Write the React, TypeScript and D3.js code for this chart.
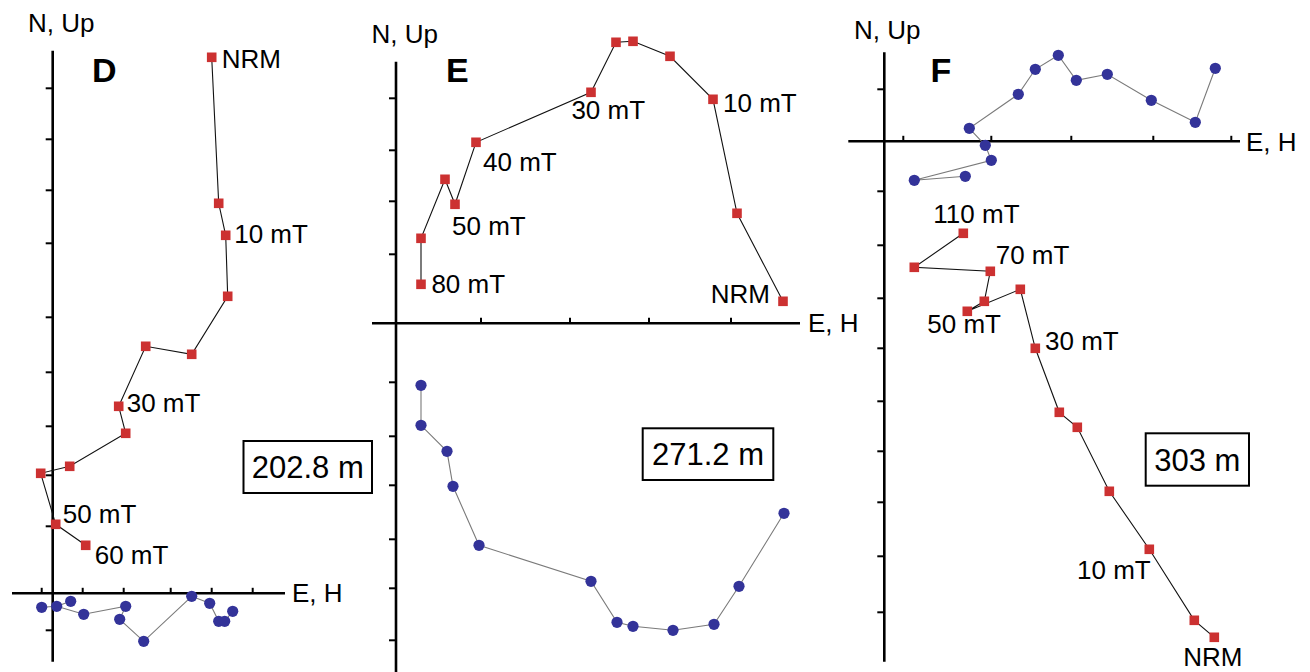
import React from 'react';
import * as d3 from 'd3';

const FONT = '"Liberation Sans", Arial, Helvetica, sans-serif';

// ---------- Panel D (202.8 m) ----------
// [E, Up] vertical projection (red squares), AF steps NRM ... 60 mT
const dVertical: [number, number][] = [
  [15.9, 53.6], [16.6, 39.0], [17.3, 35.8], [17.5, 29.7], [13.9, 23.9], [9.3, 24.7],
  [6.6, 18.7], [7.3, 16.0], [1.7, 12.7], [-1.2, 12.0], [0.3, 6.9], [3.3, 4.8],
];
// [E, N] horizontal projection (blue circles)
const dHorizontal: [number, number][] = [
  [15.7, -1.0], [16.6, -2.8], [17.2, -2.8], [18.0, -1.8], [13.9, -0.3], [9.1, -4.8],
  [6.7, -2.6], [7.3, -1.3], [1.8, -0.8], [-1.1, -1.4], [0.4, -1.3], [3.1, -2.1],
];
const dHorizontalOrder = [3, 2, 1, 0, 4, 5, 6, 7, 11, 10, 9];
const dExtraLink = [8, 10];
const dTicksX = [-1.1, 3.0, 7.1, 11.8, 15.9, 20.0];
const dTicksY = [50.5, 45.4, 40.3, 35.0, 27.6, 22.1, 16.7, 11.8, 6.7, -3.7];
const dLabels = ['NRM', '10 mT', '30 mT', '50 mT', '60 mT'];
const dLabelAt = [0, 2, 6, 10, 11];
const dDepth = '202.8 m';

// ---------- Panel E (271.2 m) ----------
const eVertical: [number, number][] = [
  [38.7, 2.2], [34.1, 11.0], [31.7, 22.4], [27.4, 26.7], [23.7, 28.2], [22.0, 28.1],
  [19.5, 23.1], [8.0, 18.1], [5.9, 11.9], [4.9, 14.4], [2.5, 8.5], [2.5, 3.9],
];
const eHorizontal: [number, number][] = [
  [38.8, -19.0], [34.3, -26.3], [31.8, -30.1], [27.7, -30.7], [23.7, -30.3], [22.1, -29.9],
  [19.5, -25.8], [8.3, -22.2], [5.7, -16.3], [5.1, -12.8], [2.5, -10.2], [2.5, -6.2],
];
const eTicksX = [8.5, 17.4, 25.3, 33.5];
const eTicksY = [22.5, 17.3, 12.2, 6.9, -5.9, -11.3, -16.2, -21.6, -26.5, -31.7];
const eLabels = ['NRM', '10 mT', '30 mT', '40 mT', '50 mT', '80 mT'];
const eLabelAt = [0, 2, 6, 7, 8, 11];
const eDepth = '271.2 m';

// ---------- Panel F (303 m) ----------
const fVertical: [number, number][] = [
  [33.0, -49.6], [31.0, -47.9], [26.5, -40.8], [22.5, -35.0], [19.3, -28.6], [17.5, -27.1],
  [15.1, -20.7], [13.6, -14.8], [8.3, -17.0], [10.0, -16.0], [10.6, -13.0], [3.0, -12.6], [7.9, -9.2],
];
const fHorizontal: [number, number][] = [
  [33.1, 7.3], [31.1, 1.9], [26.7, 4.1], [22.3, 6.7], [19.2, 6.1], [17.4, 8.6],
  [15.1, 7.2], [13.4, 4.7], [8.5, 1.3], [10.1, -0.4], [10.7, -1.9], [3.0, -3.9], [8.1, -3.5],
];
const fTicksX = [1.9, 10.7, 18.7, 26.9, 34.7];
const fTicksY = [5.2, -5.0, -10.4, -15.7, -20.7, -26.0, -31.0, -36.1, -41.5, -47.1];
const fLabels = ['NRM', '10 mT', '30 mT', '50 mT', '70 mT', '110 mT'];
const fLabelAt = [0, 2, 6, 8, 10, 12];
const fDepth = '303 m';

// ---------- layout ----------
type Panel = {
  letter: string;
  vertical: [number, number][];
  horizontal: [number, number][];
  hOrder?: number[];
  extraLinks?: number[][];
  ticksX: number[];
  ticksY: number[];
  labels: string[];
  labelAt: number[];
  labelOffsets: [number, number, string][];
  depth: string;
  xDomain: [number, number];
  xRange: [number, number];
  yDomain: [number, number];
  yRange: [number, number];
  nUp: [number, number];
  eH: [number, number];
  letterPos: [number, number];
  box: [number, number, number, number];
};

const panels: Panel[] = [
  {
    letter: 'D', vertical: dVertical, horizontal: dHorizontal, hOrder: dHorizontalOrder,
    extraLinks: [dExtraLink], ticksX: dTicksX, ticksY: dTicksY, labels: dLabels, labelAt: dLabelAt,
    labelOffsets: [[10, 11, 'start'], [8.5, 8, 'start'], [8, 6, 'start'], [7, -1, 'start'], [9, 19, 'start']],
    depth: dDepth,
    xDomain: [-4.07, 23.23], xRange: [12, 285], yDomain: [-6.84, 54.26], yRange: [661.7, 50.7],
    nUp: [28, 32], eH: [292, 602], letterPos: [92, 82], box: [243.5, 441, 128.5, 52],
  },
  {
    letter: 'E', vertical: eVertical, horizontal: eHorizontal,
    ticksX: eTicksX, ticksY: eTicksY, labels: eLabels, labelAt: eLabelAt,
    labelOffsets: [[-13, 2, 'end'], [10, 13, 'start'], [-19.6, 27, 'start'], [7, 29, 'start'], [-3, 30.7, 'start'], [10.4, 9, 'start']],
    depth: eDepth,
    xDomain: [-2.4, 40.4], xRange: [372, 800], yDomain: [-34.87, 26.16], yRange: [672, 61.7],
    nUp: [371.5, 43.3], eH: [808, 331.7], letterPos: [446, 81.7], box: [642.7, 428.3, 130.6, 51.7],
  },
  {
    letter: 'F', vertical: fVertical, horizontal: fHorizontal,
    ticksX: fTicksX, ticksY: fTicksY, labels: fLabels, labelAt: fLabelAt,
    labelOffsets: [[-31, 29, 'start'], [1.4, 30, 'end'], [9.7, 1.7, 'start'], [-40, 22, 'start'], [5.4, -7, 'start'], [-30, -10.6, 'start']],
    depth: fDepth,
    xDomain: [-3.6, 35.57], xRange: [848.3, 1240], yDomain: [-52.04, 8.9], yRange: [661.7, 52.3],
    nUp: [854, 39], eH: [1246, 150.7], letterPos: [930.5, 81.7], box: [1145.7, 433.3, 103.3, 52.4],
  },
];

const RED = '#cc3131';
const BLUE = '#333399';

function ZPanel({ p }: { p: Panel }) {
  const x = d3.scaleLinear().domain(p.xDomain).range(p.xRange);
  const y = d3.scaleLinear().domain(p.yDomain).range(p.yRange);
  const line = d3.line<[number, number]>().x((d) => x(d[0])).y((d) => y(d[1]));
  const hPts = (p.hOrder ?? p.horizontal.map((_, i) => i)).map((i) => p.horizontal[i]);
  const x0 = x(0);
  const y0 = y(0);
  return (
    <g>
      {/* axes */}
      <line x1={x0} x2={x0} y1={p.yRange[1]} y2={p.yRange[0]} stroke="#000" strokeWidth={2.6} />
      <line x1={p.xRange[0]} x2={p.xRange[1]} y1={y0} y2={y0} stroke="#000" strokeWidth={2.4} />
      {p.ticksY.map((t, i) => (
        <line key={'ty' + i} x1={x0 - 7} x2={x0} y1={y(t)} y2={y(t)} stroke="#000" strokeWidth={2} />
      ))}
      {p.ticksX.map((t, i) => (
        <line key={'tx' + i} x1={x(t)} x2={x(t)} y1={y0 - 5.5} y2={y0} stroke="#000" strokeWidth={2} />
      ))}
      {/* horizontal projection */}
      <path d={line(hPts) ?? ''} fill="none" stroke="#7a7a7a" strokeWidth={1.1} />
      {(p.extraLinks ?? []).map((l, i) => (
        <path key={'el' + i} d={line(l.map((k) => p.horizontal[k])) ?? ''} fill="none" stroke="#7a7a7a" strokeWidth={1.1} />
      ))}
      {p.horizontal.map((d, i) => (
        <circle key={'c' + i} cx={x(d[0])} cy={y(d[1])} r={5.6} fill={BLUE} />
      ))}
      {/* vertical projection */}
      <path d={line(p.vertical) ?? ''} fill="none" stroke="#111" strokeWidth={1.1} />
      {p.vertical.map((d, i) => (
        <rect key={'s' + i} x={x(d[0]) - 4.8} y={y(d[1]) - 4.8} width={9.6} height={9.6} fill={RED} />
      ))}
      {/* step labels */}
      {p.labels.map((t, i) => {
        const d = p.vertical[p.labelAt[i]];
        const [dx, dy, anchor] = p.labelOffsets[i];
        return (
          <text key={'l' + i} x={x(d[0]) + dx} y={y(d[1]) + dy} fontSize={26} fontFamily={FONT} textAnchor={anchor}>
            {t}
          </text>
        );
      })}
      {/* axis titles */}
      <text x={p.nUp[0]} y={p.nUp[1]} fontSize={26} fontFamily={FONT}>N, Up</text>
      <text x={p.eH[0]} y={p.eH[1]} fontSize={26} fontFamily={FONT}>E, H</text>
      <text x={p.letterPos[0]} y={p.letterPos[1]} fontSize={34} fontWeight="bold" fontFamily={FONT}>{p.letter}</text>
      {/* depth box */}
      <rect x={p.box[0]} y={p.box[1]} width={p.box[2]} height={p.box[3]} fill="#fff" stroke="#000" strokeWidth={2} />
      <text x={p.box[0] + p.box[2] / 2} y={p.box[1] + p.box[3] / 2 + 11} fontSize={31} fontFamily={FONT} textAnchor="middle">
        {p.depth}
      </text>
    </g>
  );
}

export default function App() {
  return (
    <svg width={1310} height={672} style={{ position: 'absolute', left: 0, top: 0, background: '#fff' }}>
      <rect x={0} y={0} width={1310} height={672} fill="#fff" />
      {panels.map((p) => (
        <ZPanel key={p.letter} p={p} />
      ))}
    </svg>
  );
}
